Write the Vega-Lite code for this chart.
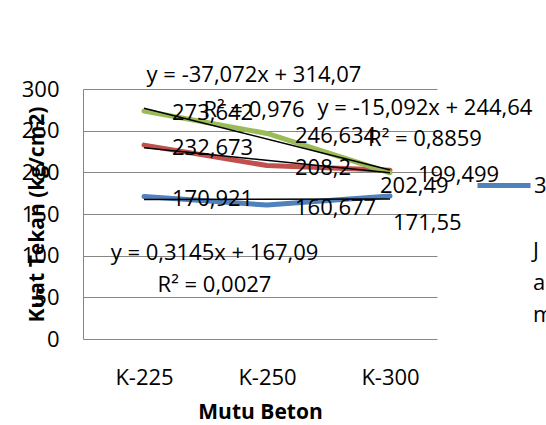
{
  "$schema": "https://vega.github.io/schema/vega-lite/v6.json",
  "width": 354,
  "height": 250,
  "autosize": {"type": "none"},
  "padding": {"left": 83, "top": 89, "right": 109, "bottom": 86},
  "background": "white",
  "config": {
    "font": "Open Sans",
    "view": {"stroke": null},
    "axis": {"labelColor": "black", "titleColor": "black", "labelFont": "Open Sans", "titleFont": "Open Sans"},
    "legend": {"labelColor": "black", "titleColor": "black", "labelFont": "Open Sans", "titleFont": "Open Sans"}
  },
  "datasets": {
    "pts": [
      {"series": "3", "Mutu": "K-225", "value": 170.921, "label": "170,921"},
      {"series": "3", "Mutu": "K-250", "value": 160.677, "label": "160,677"},
      {"series": "3", "Mutu": "K-300", "value": 171.55, "label": "171,55"},
      {"series": "2", "Mutu": "K-225", "value": 232.673, "label": "232,673"},
      {"series": "2", "Mutu": "K-250", "value": 208.2, "label": "208,2"},
      {"series": "2", "Mutu": "K-300", "value": 202.49, "label": "202,49"},
      {"series": "1", "Mutu": "K-225", "value": 273.642, "label": "273,642"},
      {"series": "1", "Mutu": "K-250", "value": 246.634, "label": "246,634"},
      {"series": "1", "Mutu": "K-300", "value": 199.499, "label": "199,499"}
    ],
    "trend": [
      {"series": "1", "Mutu": "K-225", "value": 277.0},
      {"series": "1", "Mutu": "K-300", "value": 202.85},
      {"series": "2", "Mutu": "K-225", "value": 229.55},
      {"series": "2", "Mutu": "K-300", "value": 199.36},
      {"series": "3", "Mutu": "K-225", "value": 167.4},
      {"series": "3", "Mutu": "K-300", "value": 168.03}
    ],
    "eq": [
      {"series": "1", "Mutu": "K-250", "value": 239.93, "text": "y = -37,072x + 314,07\nR² = 0,976"},
      {"series": "2", "Mutu": "K-250", "value": 214.46, "text": "y = -15,092x + 244,64\nR² = 0,8859"},
      {"series": "3", "Mutu": "K-250", "value": 167.72, "text": "y = 0,3145x + 167,09\nR² = 0,0027"}
    ]
  },
  "encoding": {
    "x": {
      "field": "Mutu",
      "type": "ordinal",
      "scale": {"type": "point", "domain": ["K-225", "K-250", "K-300"], "padding": 0.439, "align": 0.565},
      "axis": {
        "domain": false,
        "ticks": false,
        "labelAngle": 0,
        "labelPadding": 28,
        "labelFontSize": 22,
        "title": "Mutu Beton",
        "titleFontSize": 21,
        "titleFontWeight": "bold",
        "titlePadding": 13
      }
    },
    "y": {
      "field": "value",
      "type": "quantitative",
      "scale": {"domain": [0, 300], "nice": false, "zero": true},
      "axis": {
        "values": [0, 50, 100, 150, 200, 250, 300],
        "grid": true,
        "gridColor": "#868686",
        "gridWidth": 1,
        "domain": true,
        "domainColor": "#868686",
        "domainWidth": 1,
        "ticks": false,
        "labelPadding": 24,
        "labelFontSize": 22,
        "title": "Kuat Tekan (kg/cm2)",
        "titleFontSize": 21,
        "titleFontWeight": "bold",
        "titleX": -46,
        "titleY": 125,
        "titleBaseline": "middle",
        "titleAlign": "center",
        "titleAngle": 270
      }
    }
  },
  "layer": [
    {
      "data": {"name": "pts"},
      "mark": {"type": "line", "strokeWidth": 5, "strokeCap": "round", "strokeJoin": "round"},
      "encoding": {
        "color": {
          "field": "series",
          "type": "nominal",
          "scale": {"domain": ["1", "2", "3"], "range": ["#9BBB59", "#C0504D", "#4F81BD"]},
          "legend": {
            "values": ["3"],
            "orient": "none",
            "legendX": 450,
            "legendY": 67.5,
            "padding": 0,
            "title": ["J", "a", "m"],
            "titleOrient": "bottom",
            "titleAnchor": "start",
            "titleAlign": "left",
            "titleBaseline": "top",
            "titleFontSize": 22,
            "titleFontWeight": "normal",
            "titleLineHeight": 32,
            "titlePadding": 44,
            "symbolType": "stroke",
            "symbolSize": 2809,
            "symbolStrokeWidth": 5,
            "symbolOffset": -58,
            "labelOffset": 1,
            "labelFontSize": 22
          }
        }
      }
    },
    {
      "data": {"name": "trend"},
      "mark": {"type": "line", "color": "black", "strokeWidth": 1.5},
      "encoding": {"detail": {"field": "series", "type": "nominal"}}
    },
    {
      "data": {"name": "pts"},
      "transform": [{"filter": "datum.Mutu != 'K-300' || datum.series == '1'"}],
      "mark": {"type": "text", "align": "left", "baseline": "middle", "dx": 28, "dy": 2.5, "fontSize": 22, "color": "black"},
      "encoding": {"text": {"field": "label"}}
    },
    {
      "data": {"name": "pts"},
      "transform": [{"filter": "datum.Mutu == 'K-300' && datum.series == '2'"}],
      "mark": {"type": "text", "align": "left", "baseline": "middle", "dx": -10, "dy": 16, "fontSize": 22, "color": "black"},
      "encoding": {"text": {"field": "label"}}
    },
    {
      "data": {"name": "pts"},
      "transform": [{"filter": "datum.Mutu == 'K-300' && datum.series == '3'"}],
      "mark": {"type": "text", "align": "left", "baseline": "middle", "dx": 3, "dy": 27, "fontSize": 22, "color": "black"},
      "encoding": {"text": {"field": "label"}}
    },
    {
      "data": {"name": "eq"},
      "transform": [{"filter": "datum.series == '1'"}],
      "mark": {"type": "text", "align": "center", "baseline": "middle", "lineBreak": "\n", "lineHeight": 35, "dx": -13, "dy": -64, "fontSize": 22, "color": "black"},
      "encoding": {"text": {"field": "text"}}
    },
    {
      "data": {"name": "eq"},
      "transform": [{"filter": "datum.series == '2'"}],
      "mark": {"type": "text", "align": "center", "baseline": "middle", "lineBreak": "\n", "lineHeight": 31, "dx": 158, "dy": -52.3, "fontSize": 22, "color": "black"},
      "encoding": {"text": {"field": "text"}}
    },
    {
      "data": {"name": "eq"},
      "transform": [{"filter": "datum.series == '3'"}],
      "mark": {"type": "text", "align": "center", "baseline": "middle", "lineBreak": "\n", "lineHeight": 32, "dx": -52.5, "dy": 53.8, "fontSize": 22, "color": "black"},
      "encoding": {"text": {"field": "text"}}
    }
  ]
}
